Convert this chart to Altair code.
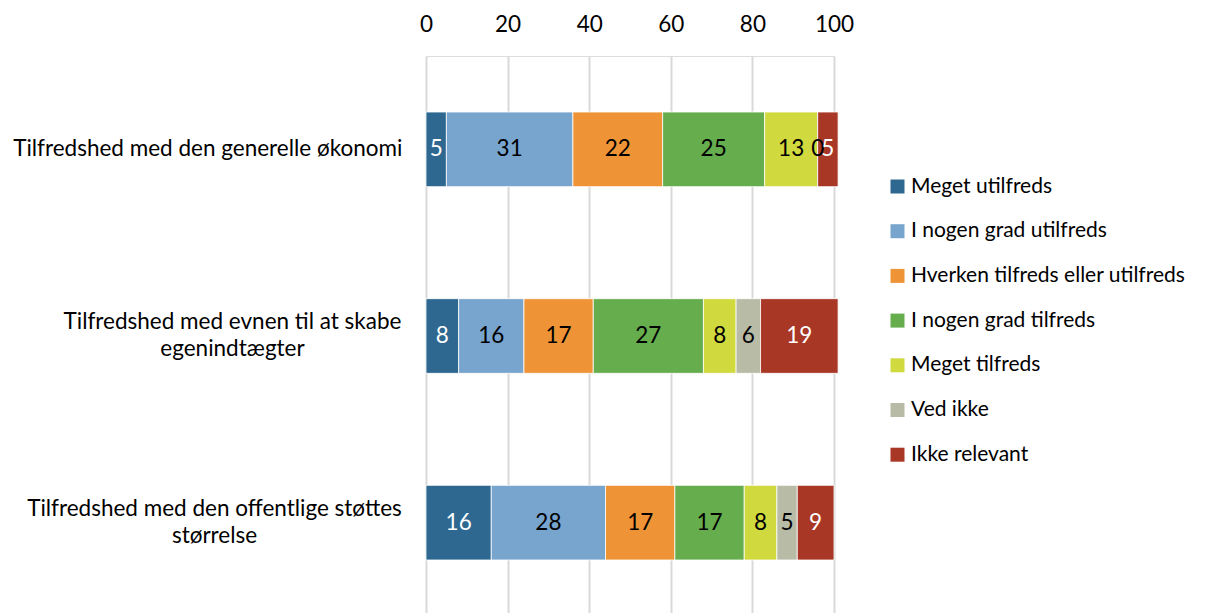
import altair as alt
import pandas as pd

questions = [
    "Tilfredshed med den generelle økonomi",
    "Tilfredshed med evnen til at skabe\negenindtægter",
    "Tilfredshed med den offentlige støttes\nstørrelse",
]
series = [
    "Meget utilfreds",
    "I nogen grad utilfreds",
    "Hverken tilfreds eller utilfreds",
    "I nogen grad tilfreds",
    "Meget tilfreds",
    "Ved ikke",
    "Ikke relevant",
]
colors = ["#2E6891", "#77A5CE", "#EE9436", "#66AD4E", "#D0D93E", "#B8BBA6", "#A93726"]

meget_utilfreds = [5, 8, 16]
nogen_utilfreds = [31, 16, 28]
hverken = [22, 17, 17]
nogen_tilfreds = [25, 27, 17]
meget_tilfreds = [13, 8, 8]
ved_ikke = [0, 6, 5]
ikke_relevant = [5, 19, 9]

values = [meget_utilfreds, nogen_utilfreds, hverken, nogen_tilfreds,
          meget_tilfreds, ved_ikke, ikke_relevant]
x_ticks = [0, 20, 40, 60, 80, 100]

rows = []
for si, (s, vals) in enumerate(zip(series, values)):
    for q, v in zip(questions, vals):
        rows.append({"q": q, "series": s, "value": v, "order": si})
df = pd.DataFrame(rows)

FONT = "Lato"
FS = 22.5
LFS = 21

base = alt.Chart(df).transform_stack(
    stack="value", groupby=["q"], as_=["x0", "x1"],
    sort=[alt.SortField("order", order="ascending")],
)

multi = "indexof(datum.value, '\\n') >= 0"

y_enc = alt.Y(
    "q:N", sort=questions, title=None,
    scale=alt.Scale(paddingInner=0.6, paddingOuter=0.3),
    axis=alt.Axis(labelExpr="split(datum.label, '\\n')",
                  labelAlign={"condition": {"test": multi, "value": "center"}, "value": "right"},
                  labelPadding={"condition": [
                      {"test": "indexof(datum.value, 'evnen') >= 0", "value": 194},
                      {"test": "indexof(datum.value, 'offentlige') >= 0", "value": 212},
                  ], "value": 24},
                  labelOffset={"condition": {"test": multi, "value": -14}, "value": 0},
                  labelBaseline="middle", labelLineHeight=27,
                  labelFontSize=FS, labelFont=FONT, labelColor="#000000",
                  ticks=False, domain=False, labelLimit=0),
)

bars = base.mark_bar(stroke="white", strokeWidth=0.8).encode(
    y=y_enc,
    x=alt.X("x0:Q", title=None,
            scale=alt.Scale(domain=[0, 100], nice=False),
            axis=alt.Axis(orient="top", values=x_ticks, ticks=False, domain=False,
                          labelFontSize=FS, labelFont=FONT, labelColor="#000000",
                          labelPadding=20, labelFlush=False, grid=True,
                          gridColor="#D9D9D9", gridWidth=2)),
    x2="x1:Q",
    color=alt.Color("series:N", sort=series,
                    scale=alt.Scale(domain=series, range=colors),
                    legend=alt.Legend(orient="none", legendX=461, legendY=120,
                                      title=None, symbolType="square",
                                      symbolSize=196, symbolStrokeWidth=0,
                                      labelFontSize=LFS, labelFont=FONT,
                                      labelColor="#000000", rowPadding=22.7,
                                      labelOffset=3, labelLimit=0)),
)

labels = base.transform_calculate(mid="(datum.x0 + datum.x1) / 2").mark_text(
    font=FONT, fontSize=FS, baseline="middle", align="center"
).encode(
    y=alt.Y("q:N", sort=questions),
    x="mid:Q",
    text="value:Q",
    color=alt.condition(
        alt.FieldOneOfPredicate(field="series", oneOf=["Meget utilfreds", "Ikke relevant"]),
        alt.value("white"), alt.value("black")),
)

chart = alt.layer(bars, labels).properties(
    width=408, height=560,
    autosize=alt.AutoSizeParams(type="none"),
    padding={"left": 418, "top": 48, "right": 364, "bottom": 0},
).configure_view(stroke=None).configure(font=FONT)

chart.save("out.html", embed_options={"renderer": "svg", "actions": False})
